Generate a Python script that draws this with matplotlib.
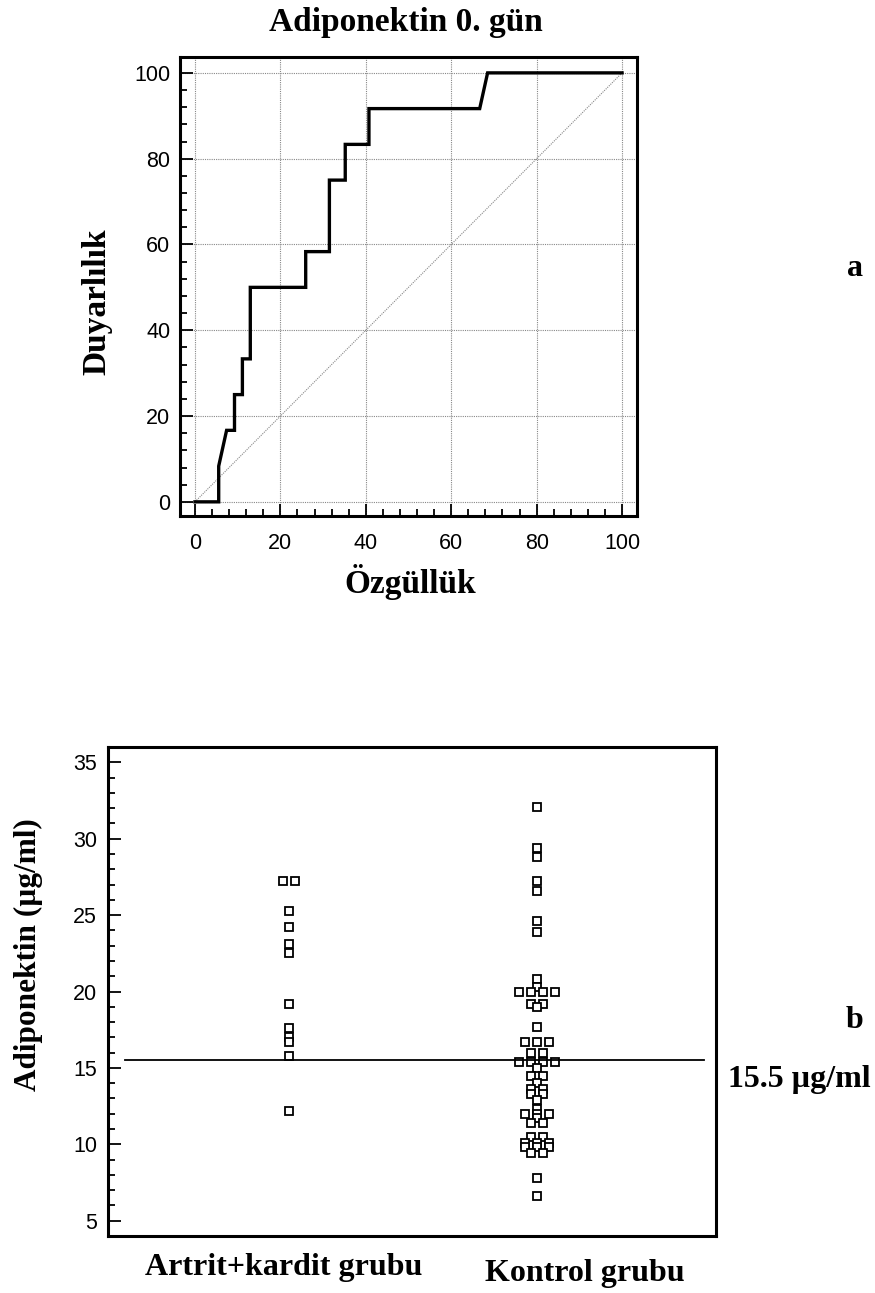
import numpy as np
import matplotlib
matplotlib.use('Agg')
import matplotlib.pyplot as plt
from matplotlib.ticker import MultipleLocator

# ROC curve: 100-specificity (x) vs sensitivity (y)
roc_fpr = [0, 5.56, 5.56, 7.41, 9.26, 9.26, 11.11, 11.11, 12.96, 12.96, 25.93,
           25.93, 31.48, 31.48, 35.19, 35.19, 40.74, 40.74, 66.67, 68.52, 100]
roc_sens = [0, 0, 8.33, 16.67, 16.67, 25, 25, 33.33, 33.33, 50, 50,
            58.33, 58.33, 75, 75, 83.33, 83.33, 91.67, 91.67, 100, 100]

# dot plot values (ug/ml)
groups = ['Artrit+kardit grubu', 'Kontrol grubu']
patient_vals = [27.2, 27.2, 25.3, 24.2, 23.1, 22.5, 19.2, 17.6, 17.0, 16.7, 15.8, 12.2]
control_vals = [32.1, 29.4, 28.8, 27.2, 26.6, 24.6, 23.9, 20.8, 20.3,
                20.0, 20.0, 20.0, 20.0, 19.2, 19.2, 19.0, 17.7,
                16.7, 16.7, 16.7, 16.0, 16.0, 15.4, 15.4, 15.4, 15.4, 15.0,
                14.5, 14.5, 14.0, 13.6, 13.6, 13.3, 13.3, 12.9, 12.3,
                12.0, 12.0, 12.0, 11.7, 11.4, 11.4, 10.5, 10.5,
                10.1, 10.1, 10.1, 9.8, 9.8, 9.8, 9.4, 9.4, 7.8, 6.6]
cutoff = 15.5

W, H = 875, 1293
fig = plt.figure(figsize=(W / 100, H / 100), dpi=100)
plt.rcParams['font.family'] = 'Liberation Sans'
serif = 'Liberation Serif'


def box(l, t, r, b):
    return [l / W, 1 - b / H, (r - l) / W, (b - t) / H]


def ftext(x, y, s, size=23, **kw):
    fig.text(x / W, 1 - y / H, s, family=serif, fontweight='bold', fontsize=size,
             ha=kw.pop('ha', 'center'), va=kw.pop('va', 'center'), **kw)


def style_frame(ax, pad):
    for sp in ax.spines.values():
        sp.set_linewidth(2.2)
    ax.tick_params(which='both', direction='in', width=1.3, labelsize=15.5, pad=pad)
    ax.tick_params(which='major', length=9)
    ax.tick_params(which='minor', length=5)


# ---- a: ROC curve
ax1 = fig.add_axes(box(180, 57, 637, 516))
ax1.plot([0, 100], [0, 100], color='#888888', lw=0.8, ls=(0, (1, 1)))
ax1.plot(roc_fpr, roc_sens, color='black', lw=2.4, solid_joinstyle='miter')
ax1.set_xlim(-3.5, 103.5)
ax1.set_ylim(-3.3, 103.7)
ax1.xaxis.set_major_locator(MultipleLocator(20))
ax1.yaxis.set_major_locator(MultipleLocator(20))
ax1.xaxis.set_minor_locator(MultipleLocator(4))
ax1.yaxis.set_minor_locator(MultipleLocator(4))
ax1.grid(True, which='major', color='#888888', lw=0.8, ls=(0, (1, 1)))
style_frame(ax1, 7)
ax1.tick_params(axis='x', pad=12)

ftext(406, 22, 'Adiponektin 0. gün', size=24)
ftext(410, 582, 'Özgüllük', size=24)
ftext(97, 302, 'Duyarlılık', size=24, rotation=90)
ftext(855, 268, 'a')

# ---- b: dot plot
ax2 = fig.add_axes(box(108, 747, 716, 1236))
step = 0.024


def dodge(vals):
    xs_off = []
    uniq = {}
    for v in vals:
        uniq[v] = uniq.get(v, 0) + 1
    for v, n in uniq.items():
        offs = (np.arange(n) - (n - 1) / 2) * 2
        xs_off += [(v, o) for o in offs]
    return xs_off


for i, vals in enumerate([patient_vals, control_vals]):
    pts = dodge(vals)
    xs = [i + 1 + o * step for v, o in pts]
    ys = [v for v, o in pts]
    ax2.plot(xs, ys, ls='none', marker='s', ms=6, mfc='white', mec='black', mew=1.3)

ax2.axhline(cutoff, xmin=0.028, xmax=0.98, color='black', lw=1.3)
ax2.set_xlim(0.274, 2.719)
ax2.set_ylim(4.0, 36.0)
ax2.set_xticks([])
ax2.yaxis.set_major_locator(MultipleLocator(5))
ax2.yaxis.set_minor_locator(MultipleLocator(1))
style_frame(ax2, 8)

ftext(284, 1268, groups[0])
ftext(585, 1274, groups[1])
ftext(28, 955, 'Adiponektin (µg/ml)', size=22.5, rotation=90)
ftext(728, 1080, '15.5 µg/ml', ha='left')
ftext(855, 1020, 'b')

fig.savefig('out.png', dpi=100)
